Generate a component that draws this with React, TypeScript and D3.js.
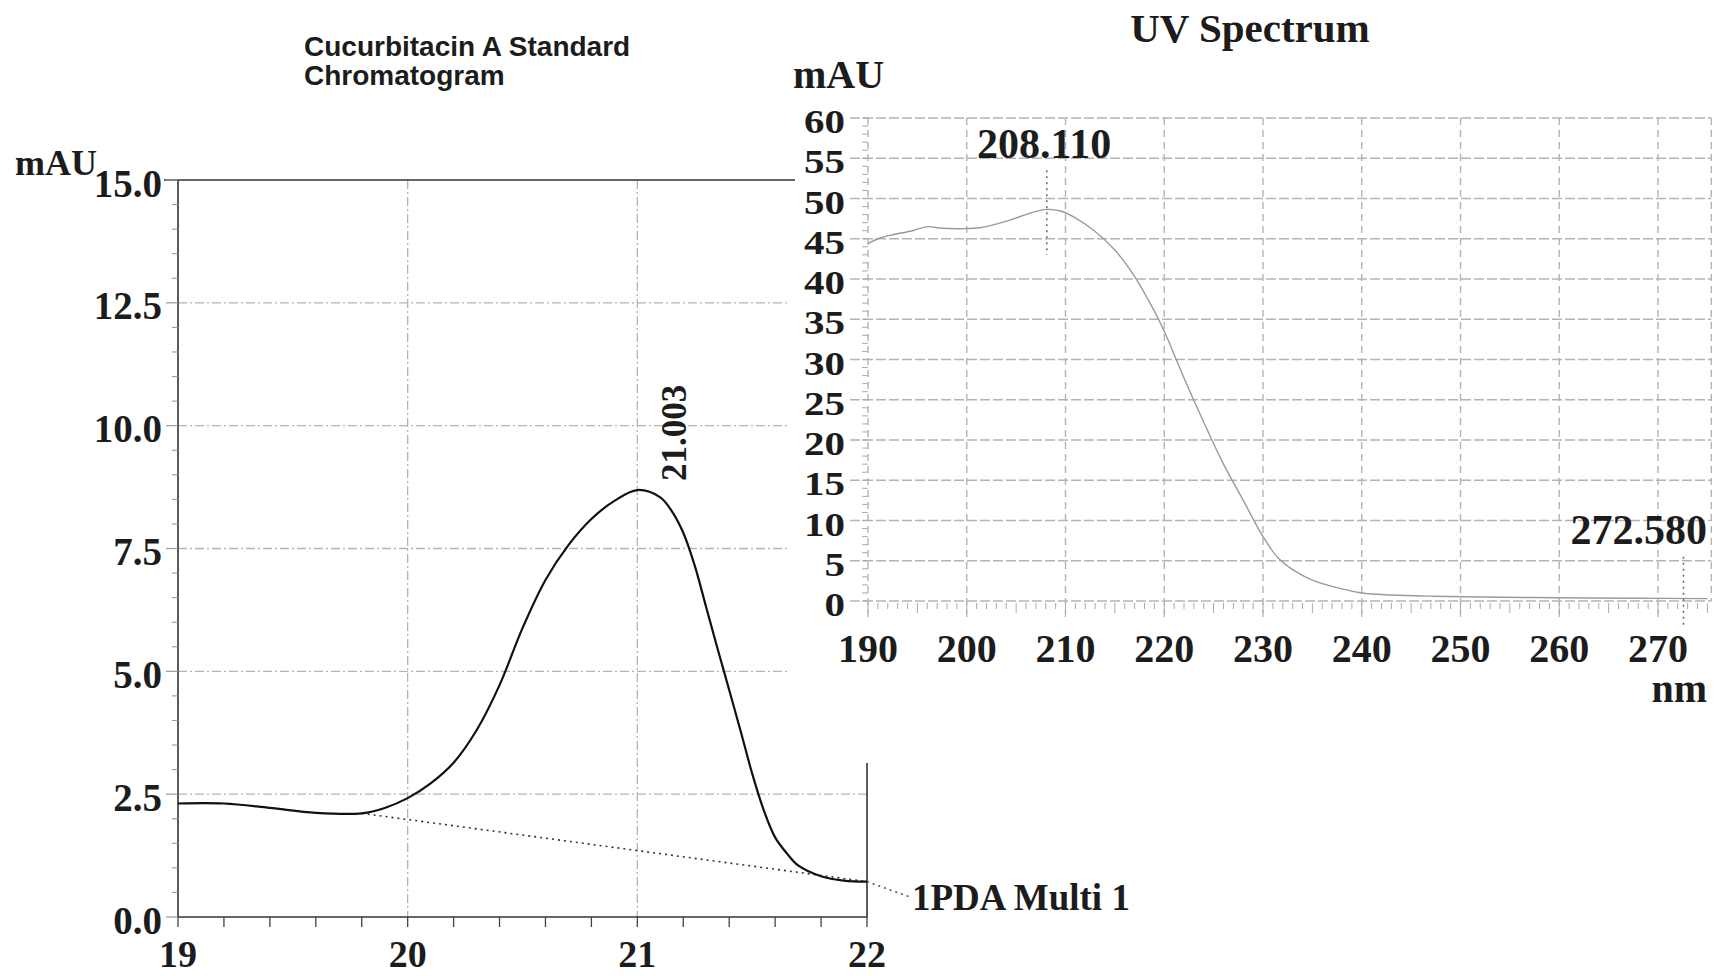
import React from 'react';
import * as d3 from 'd3';

// ---- Chromatogram (left) ----
const chromTime = [19.0, 19.2, 19.4, 19.6, 19.8, 19.9, 20.0, 20.1, 20.2, 20.3, 20.4, 20.5, 20.6, 20.7, 20.8, 20.9, 21.0, 21.1, 21.15, 21.2, 21.25, 21.3, 21.35, 21.4, 21.45, 21.5, 21.55, 21.6, 21.65, 21.7, 21.8, 21.9, 22.0];
const chromSignal = [2.31, 2.31, 2.22, 2.12, 2.11, 2.22, 2.42, 2.72, 3.14, 3.8, 4.72, 5.88, 6.86, 7.57, 8.1, 8.47, 8.69, 8.54, 8.26, 7.82, 7.15, 6.3, 5.45, 4.62, 3.78, 2.92, 2.18, 1.62, 1.3, 1.05, 0.83, 0.74, 0.72];
const baselineTime = [19.8, 22.0];
const baselineSignal = [2.11, 0.72];
const leftYTicks = [0, 2.5, 5, 7.5, 10, 12.5, 15];
const leftXTicks = [19, 20, 21, 22];
const leftGridX = [20, 21];
const peakTime = 21.003;
const peakLabel = '21.003';
const chromTitle = ['Cucurbitacin A Standard', 'Chromatogram'];
const chromLegend = '1PDA Multi 1';

// ---- UV spectrum (right) ----
const uvWavelength = [190, 191, 192.5, 194.5, 196, 197.5, 199.5, 201.5, 203.5, 205.5, 207, 208.1, 209.5, 211, 213, 215, 217, 219, 220, 222, 224, 226, 228, 230, 231.5, 233, 235, 238, 240, 243, 247, 252, 260, 268, 275];
const uvAbsorbance = [44.4, 45.0, 45.5, 46.0, 46.5, 46.3, 46.25, 46.4, 47.0, 47.8, 48.4, 48.65, 48.45, 47.6, 45.9, 43.6, 40.3, 36.0, 33.5, 27.7, 22.2, 17.0, 12.5, 8.0, 5.4, 3.9, 2.6, 1.5, 1.0, 0.75, 0.6, 0.5, 0.4, 0.35, 0.3];
const rightYTicks = [0, 5, 10, 15, 20, 25, 30, 35, 40, 45, 50, 55, 60];
const rightXTicks = [190, 200, 210, 220, 230, 240, 250, 260, 270];
const uvPeakNm = [208.11, 272.58];
const uvPeakLabels = ['208.110', '272.580'];
const uvTitle = 'UV Spectrum';

const SERIF = "'Liberation Serif', 'Times New Roman', serif";
const SANS = "'Liberation Sans', Arial, sans-serif";
const INK = '#1c1c1c';
const GRID = '#b4b4b4';

export default function App() {
  const xL = d3.scaleLinear().domain([19, 22]).range([178, 867]);
  const yL = d3.scaleLinear().domain([0, 15]).range([917, 180]);
  const xR = d3.scaleLinear().domain([190, 270]).range([868, 1658]);
  const yR = d3.scaleLinear().domain([0, 60]).range([601, 118]);

  const chromPts = chromTime.map((t, i) => [t, chromSignal[i]] as [number, number]);
  const chromLine = d3.line<[number, number]>().x(d => xL(d[0])).y(d => yL(d[1])).curve(d3.curveCatmullRom.alpha(0.5));
  const basePts = baselineTime.map((t, i) => [t, baselineSignal[i]] as [number, number]);
  const baseLine = d3.line<[number, number]>().x(d => xL(d[0])).y(d => yL(d[1]));

  const uvPts = uvWavelength.map((w, i) => [w, uvAbsorbance[i]] as [number, number]);
  const uvLine = d3.line<[number, number]>().x(d => xR(d[0])).y(d => yR(d[1])).curve(d3.curveCatmullRom.alpha(0.5));

  const leftMinorY = d3.range(0, 15.01, 0.5).filter(v => !leftYTicks.includes(v));
  const leftMinorX = d3.range(19, 22.001, 0.2);
  const rightMinorY = d3.range(0, 60.01, 1);
  const rightMinorX = d3.range(190, 276, 1);
  const rEdge = xR(275.4);

  const lastT = baselineTime[baselineTime.length - 1];
  const lastS = baselineSignal[baselineSignal.length - 1];

  return (
    <svg width={1715} height={976} style={{ position: 'absolute', left: 0, top: 0, background: '#fff' }}>
      <rect x={0} y={0} width={1715} height={976} fill="#fff" />

      {/* ---------- LEFT CHART ---------- */}
      {chromTitle.map((t, i) => (
        <text key={t} x={304} y={56 + i * 29} fontFamily={SANS} fontWeight="bold" fontSize={28} fill={INK}>{t}</text>
      ))}

      {/* grid */}
      {leftYTicks.filter(v => v > 0 && v < 15).map(v => (
        <line key={'lg' + v} x1={xL(19)} x2={v === 2.5 ? xL(22) : 790} y1={yL(v)} y2={yL(v)} stroke={GRID} strokeWidth={1.3} strokeDasharray="9,3,2,3" />
      ))}
      {leftGridX.map(v => (
        <line key={'lgx' + v} x1={xL(v)} x2={xL(v)} y1={yL(15)} y2={yL(0)} stroke={GRID} strokeWidth={1.3} strokeDasharray="9,3,2,3" />
      ))}

      {/* frame */}
      <line x1={xL(19)} x2={xL(19)} y1={yL(15)} y2={yL(0)} stroke="#333" strokeWidth={1.6} />
      <line x1={xL(19) - 14} x2={795} y1={yL(15)} y2={yL(15)} stroke="#333" strokeWidth={1.6} />
      <line x1={xL(19)} x2={xL(22)} y1={yL(0)} y2={yL(0)} stroke="#333" strokeWidth={1.6} />
      <line x1={xL(22)} x2={xL(22)} y1={yL(0)} y2={763} stroke="#333" strokeWidth={1.6} />

      {/* ticks */}
      {leftYTicks.map(v => (
        <line key={'lyt' + v} x1={xL(19) - 12} x2={xL(19)} y1={yL(v)} y2={yL(v)} stroke="#999" strokeWidth={1.2} />
      ))}
      {leftMinorY.map(v => (
        <line key={'lym' + v} x1={xL(19) - 6} x2={xL(19)} y1={yL(v)} y2={yL(v)} stroke="#999" strokeWidth={1.1} />
      ))}
      {leftMinorX.map(v => (
        <line key={'lxm' + v} x1={xL(v)} x2={xL(v)} y1={yL(0)} y2={yL(0) + 10} stroke="#444" strokeWidth={1.3} />
      ))}

      {/* tick labels */}
      {leftYTicks.map(v => (
        <text key={'lyl' + v} x={162} y={yL(v) + 3} textAnchor="end" dominantBaseline="central" fontFamily={SERIF} fontWeight="bold" fontSize={39} fill={INK}>{v.toFixed(1)}</text>
      ))}
      {leftXTicks.map(v => (
        <text key={'lxl' + v} x={xL(v)} y={967} textAnchor="middle" fontFamily={SERIF} fontWeight="bold" fontSize={38} fill={INK}>{v}</text>
      ))}
      <text x={15} y={175} fontFamily={SERIF} fontWeight="bold" fontSize={36} fill={INK}>mAU</text>

      {/* baseline and curve */}
      <path d={baseLine(basePts) || ''} fill="none" stroke="#333" strokeWidth={1.6} strokeDasharray="2,4" />
      <line x1={xL(lastT)} y1={yL(lastS)} x2={910} y2={897} stroke="#555" strokeWidth={1.6} strokeDasharray="2,4" />
      <path d={chromLine(chromPts) || ''} fill="none" stroke="#111" strokeWidth={2.2} />

      <text transform={`translate(${xL(peakTime) + 48},481) rotate(-90)`} fontFamily={SERIF} fontWeight="bold" fontSize={35} fill={INK}>{peakLabel}</text>
      <text x={912} y={910} fontFamily={SERIF} fontWeight="bold" fontSize={37} fill={INK}>{chromLegend}</text>

      {/* ---------- RIGHT CHART ---------- */}
      <text x={1250} y={42} textAnchor="middle" fontFamily={SERIF} fontWeight="bold" fontSize={41} fill={INK}>{uvTitle}</text>
      <text x={793} y={88} fontFamily={SERIF} fontWeight="bold" fontSize={40} fill={INK}>mAU</text>

      {rightYTicks.map(v => (
        <line key={'rg' + v} x1={850} x2={rEdge} y1={yR(v)} y2={yR(v)} stroke={GRID} strokeWidth={1.5} strokeDasharray="10,3" />
      ))}
      {rightXTicks.map(v => (
        <line key={'rgx' + v} x1={xR(v)} x2={xR(v)} y1={yR(60)} y2={622} stroke={GRID} strokeWidth={1.4} strokeDasharray="7,5" />
      ))}
      <line x1={rEdge} x2={rEdge} y1={yR(60)} y2={yR(0)} stroke={GRID} strokeWidth={1.4} strokeDasharray="7,5" />

      {rightMinorY.map(v => (
        <line key={'rym' + v} x1={xR(190) - 6} x2={xR(190)} y1={yR(v)} y2={yR(v)} stroke="#aaa" strokeWidth={1} />
      ))}
      {rightMinorX.map(v => (
        <line key={'rxm' + v} x1={xR(v)} x2={xR(v)} y1={yR(0) + 2} y2={yR(0) + (v % 5 === 0 ? 12 : 8)} stroke="#aaa" strokeWidth={1} />
      ))}

      {rightYTicks.map(v => (
        <text key={'ryl' + v} x={845} y={yR(v) + 3} textAnchor="end" dominantBaseline="central" fontFamily={SERIF} fontWeight="bold" fontSize={34.5} textLength={String(v).length * 20.5} lengthAdjust="spacingAndGlyphs" fill={INK}>{v}</text>
      ))}
      {rightXTicks.map(v => (
        <text key={'rxl' + v} x={xR(v)} y={662} textAnchor="middle" fontFamily={SERIF} fontWeight="bold" fontSize={40} fill={INK}>{v}</text>
      ))}
      <text x={1707} y={702} textAnchor="end" fontFamily={SERIF} fontWeight="bold" fontSize={40} fill={INK}>nm</text>

      <path d={uvLine(uvPts) || ''} fill="none" stroke="#9a9a9a" strokeWidth={1.4} />

      {/* peak markers */}
      <line x1={xR(uvPeakNm[0])} x2={xR(uvPeakNm[0])} y1={yR(53.5)} y2={yR(43)} stroke="#666" strokeWidth={1.5} strokeDasharray="2,4" />
      <text x={977} y={158} fontFamily={SERIF} fontWeight="bold" fontSize={42} fill={INK}>{uvPeakLabels[0]}</text>
      <line x1={xR(uvPeakNm[1])} x2={xR(uvPeakNm[1])} y1={yR(5.5)} y2={yR(-3)} stroke="#666" strokeWidth={1.5} strokeDasharray="2,4" />
      <text x={1707} y={544} textAnchor="end" fontFamily={SERIF} fontWeight="bold" fontSize={42} fill={INK}>{uvPeakLabels[1]}</text>
    </svg>
  );
}
